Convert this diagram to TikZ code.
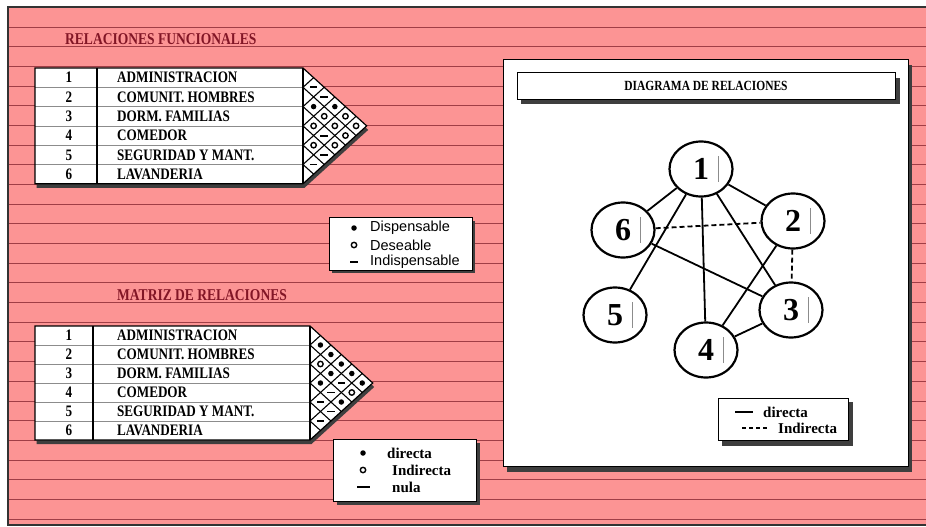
\documentclass[tikz,border=0pt]{standalone}
\usepackage{fontspec}
\setmainfont{Liberation Serif}
\newfontfamily\condfont[FakeStretch=0.82]{Liberation Serif}
\newfontfamily\legfont{Liberation Sans}
\usetikzlibrary{positioning,shapes.geometric}
\definecolor{PagePink}{RGB}{252,148,148}
\definecolor{RuleRed}{RGB}{160,62,70}
\definecolor{HeadRed}{RGB}{130,22,38}
\definecolor{ShadowGray}{RGB}{62,62,62}

\tikzset{
  rule/.style={draw=RuleRed,line width=0.8pt},
  pageedge/.style={draw=black!80,line width=1.2pt},
  heading/.style={font=\condfont\bfseries\fontsize{16.5}{18}\selectfont,text=HeadRed,anchor=west,inner sep=0pt},
  rownum/.style={font=\condfont\bfseries\fontsize{16}{18}\selectfont,inner sep=0pt},
  rowtext/.style={font=\condfont\bfseries\fontsize{16}{18}\selectfont,anchor=west,inner sep=0pt},
  chartedge/.style={draw=black,line width=1.2pt},
  rowline/.style={draw=black!45,line width=0.7pt},
  gridline/.style={draw=black,line width=1.1pt},
  dotsym/.style={circle,fill=black,inner sep=0pt,minimum size=5.5pt},
  ringsym/.style={circle,draw=black,line width=1.4pt,inner sep=0pt,minimum size=5.4pt},
  dashsym/.style={rectangle,fill=black,inner sep=0pt,minimum width=7.5pt,minimum height=1.9pt},
  plainbox/.style={draw=black,fill=white,line width=1pt},
  legsans/.style={font=\legfont\fontsize{14.5}{16}\selectfont,anchor=west,inner sep=0pt},
  legserif/.style={font=\bfseries\fontsize{15}{17}\selectfont,anchor=west,inner sep=0pt},
  station/.style={ellipse,draw=black,line width=2.2pt,fill=white,minimum width=63pt,
    minimum height=55pt,inner sep=0pt,font=\bfseries\fontsize{32}{32}\selectfont},
  markline/.style={draw=black!45,line width=0.6pt},
  link/.style={line width=1.8pt},
  weaklink/.style={line width=1.8pt,dash pattern=on 5pt off 3pt}
}

% table with its triangular matrix: shift, width, row height, divider, prefix, cells
\newcommand{\relchart}[6]{%
  \begin{scope}[shift={#1}]
    \fill[ShadowGray] (1.5,4) -- ({#2+1.5},4) -- ({#2+1.5+3.3*#3},{3*#3+4})
      -- ({#2+1.5},{6*#3+4}) -- (1.5,{6*#3+4}) -- cycle;
    \fill[white] (0,0) -- (#2,0) -- ({#2+3.3*#3},{3*#3}) -- (#2,{6*#3}) -- (0,{6*#3}) -- cycle;
    \foreach \k in {1,...,5} {
      \draw[rowline] (0,{\k*#3}) -- (#2,{\k*#3});
      \draw[gridline] ({#2+1.1*\k*#3/2},{\k*#3/2}) -- (#2,{\k*#3})
        -- ({#2+1.1*(6-\k)*#3/2},{(6+\k)*#3/2});
    }
    \draw[chartedge] (0,0) -- (#2,0) -- ({#2+3.3*#3},{3*#3}) -- (#2,{6*#3}) -- (0,{6*#3}) -- cycle;
    \draw[chartedge] (#4,0) -- (#4,{6*#3}) (#2,0) -- (#2,{6*#3});
    \foreach \n/\txt in {1/ADMINISTRACION,2/COMUNIT. HOMBRES,3/DORM. FAMILIAS,
        4/COMEDOR,5/SEGURIDAD Y MANT.,6/LAVANDERIA} {
      \node[rownum] (#5n\n) at (34,{(\n-0.5)*#3}) {\n};
      \node[rowtext] (#5t\n) at (82,{(\n-0.5)*#3}) {\txt};
    }
    \foreach \i/\j/\t in {#6}
      \node[\t] (#5c\i\j) at ({#2+1.1*(\j-\i)*#3/2},{(\i+\j-1)*#3/2}) {};
  \end{scope}}

\begin{document}
\begin{tikzpicture}[x=1pt,y=-1pt]
  \useasboundingbox (0,0) rectangle (926,527);
  % ruled page
  \fill[white] (0,0) rectangle (926,527);
  \fill[PagePink] (8,7) rectangle (926,525);
  \foreach \k in {0,...,25}
    \draw[rule] (8,{27+19.68*\k}) -- (926,{27+19.68*\k});
  \draw[pageedge] (926,7) -- (8,7) -- (8,525) -- (926,525);

  % headings
  \node[heading] (hfun) at (65,39) {RELACIONES FUNCIONALES};
  \node[heading] (hmat) at (117,295) {MATRIZ DE RELACIONES};

  % relaciones funcionales
  \relchart{(35,68)}{268}{19.3}{62}{f}{1/2/dashsym,1/3/dashsym,1/4/dotsym,1/5/ringsym,1/6/ringsym,
    2/3/dotsym,2/4/ringsym,2/5/ringsym,2/6/ringsym,3/4/ringsym,3/5/dashsym,3/6/ringsym,
    4/5/ringsym,4/6/dashsym,5/6/dashsym}

  % matriz de relaciones
  \relchart{(35,326)}{275}{19}{58}{m}{1/2/dotsym,1/3/dotsym,1/4/dotsym,1/5/dotsym,1/6/dotsym,
    2/3/ringsym,2/4/dotsym,2/5/dashsym,2/6/ringsym,3/4/dotsym,3/5/dashsym,3/6/dotsym,
    4/5/dashsym,4/6/dashsym,5/6/dashsym}

  % legend 1
  \fill[ShadowGray] (332,221) rectangle (475,273);
  \draw[plainbox] (329,217) rectangle (472,270);
  \node[dotsym] (la) at (354,228) {};
  \node[ringsym] (lb) at (354,245) {};
  \node[dashsym] (lc) at (354,262) {};
  \node[legsans] (lat) at (370,228) {Dispensable};
  \node[legsans] (lbt) at (370,245) {Deseable};
  \node[legsans] (lct) at (370,262) {Indispensable};

  % legend 2
  \fill[ShadowGray] (337,443) rectangle (480,505);
  \draw[plainbox] (333,439) rectangle (476,501);
  \node[dotsym] (ma) at (363,453) {};
  \node[ringsym] (mb) at (363,470) {};
  \node[dashsym,minimum width=13pt] (mc) at (363,487) {};
  \node[legserif] (mat) at (387,453) {directa};
  \node[legserif] (mbt) at (392,470) {Indirecta};
  \node[legserif] (mct) at (392,487) {nula};

  % diagrama de relaciones
  \fill[ShadowGray] (507,65) rectangle (912,472);
  \draw[plainbox] (503,60) rectangle (908,466);
  \fill[ShadowGray] (521,78) rectangle (900,104);
  \draw[plainbox] (517,73) rectangle (895,99);
  \node[font=\condfont\bfseries\fontsize{14}{15}\selectfont,inner sep=0pt] (dtitle) at (706,86)
    {DIAGRAMA DE RELACIONES};

  \node[station] (st1) at (701,169) {1};
  \node[station] (st2) at (793,221) {2};
  \node[station] (st3) at (791,310) {3};
  \node[station] (st4) at (706,350) {4};
  \node[station] (st5) at (615,315) {5};
  \node[station] (st6) at (623,230) {6};
  \foreach \n in {1,...,6}
    \draw[markline] ([shift={(17,-13)}]st\n.center) -- ([shift={(17,13)}]st\n.center);

  \foreach \a/\b in {1/6,1/2,1/5,1/4,1/3,6/3,2/4,4/3}
    \draw[link] (st\a) -- (st\b);
  \draw[weaklink] (st6) -- (st2);
  \draw[weaklink] (st2) -- (st3);

  % legend 3
  \fill[ShadowGray] (722,402) rectangle (853,446);
  \draw[plainbox] (718,398) rectangle (848,440);
  \coordinate (ka) at (735,412);
  \coordinate (kb) at (753,412);
  \coordinate (kc) at (742,428);
  \coordinate (kd) at (769,428);
  \draw[link] (ka) -- (kb);
  \draw[line width=1.6pt,dash pattern=on 4pt off 3pt] (kc) -- (kd);
  \node[legserif] (kat) at (763,412) {directa};
  \node[legserif] (kbt) at (778,428) {Indirecta};
\end{tikzpicture}
\end{document}
